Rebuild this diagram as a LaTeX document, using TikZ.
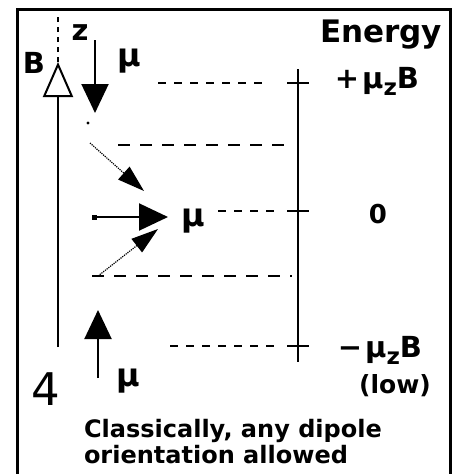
\documentclass[tikz,border=0pt]{standalone}
\usepackage{fontspec}
\setmainfont{DejaVu Sans}
\usetikzlibrary{arrows.meta}

\begin{document}
\begin{tikzpicture}[x=1pt, y=-1pt, line width=2pt,
    >={Triangle[length=29pt,width=27pt]},
    seta/.style={->},
    seta fina/.style={-{Triangle[length=27pt,width=17pt]}, line width=1.2pt, densely dotted},
    nivel/.style={dash pattern=on 8pt off 8pt},
    nivel longo/.style={dash pattern=on 12pt off 10pt},
    rotulo/.style={font=\bfseries\fontsize{32}{35}\selectfont, inner sep=0pt, anchor=base},
    texto/.style={font=\bfseries\fontsize{24}{26}\selectfont, inner sep=0pt, anchor=base west}]
\useasboundingbox (0,0) rectangle (455,474);
% Moldura
\draw[line width=3pt] (17,9) rectangle (450,484);
% Campo B
\coordinate (bBase) at (58,347);
\coordinate (bPonta) at (58,62);
\coordinate (zTopo) at (58,15);
\draw[-{Triangle[open,length=35pt,width=30pt]}] (bBase) -- (bPonta);
\draw[dash pattern=on 5pt off 5pt] (bPonta) -- (zTopo);
\node[rotulo, font=\bfseries\fontsize{29}{32}\selectfont] (lblB) at (34,73) {B};
\node[rotulo, font=\bfseries\fontsize{29}{32}\selectfont] (lblz) at (80,40) {z};
% Dipolo para baixo
\coordinate (mu1a) at (95,40);
\coordinate (mu1b) at (95,113);
\draw[seta] (mu1a) -- (mu1b);
\node[rotulo] (mu1) at (129,66) {μ};
\node[circle, fill, inner sep=1.1pt] (ponto) at (88,123) {};
% Dipolos inclinados
\coordinate (mu2a) at (90,143);
\coordinate (mu2b) at (144,191);
\draw[seta fina] (mu2a) -- (mu2b);
\coordinate (mu3a) at (92,217);
\coordinate (mu3b) at (168,217);
\draw[{Square[length=5pt,width=5pt]}->] (mu3a) -- (mu3b);
\node[rotulo] (mu3) at (193,226) {μ};
\coordinate (mu4a) at (98,276);
\coordinate (mu4b) at (158,229);
\draw[seta fina] (mu4a) -- (mu4b);
% Dipolo para cima
\coordinate (mu5a) at (98,378);
\coordinate (mu5b) at (98,310);
\draw[seta] (mu5a) -- (mu5b);
\node[rotulo] (mu5) at (128,386) {μ};
\node[font=\fontsize{45}{48}\selectfont, inner sep=0pt, anchor=base] (num) at (45.5,405) {4};
% Eixo de energia
\coordinate (eTopo) at (298,69);
\coordinate (eBase) at (298,362);
\draw (eTopo) -- (eBase);
\foreach \y/\nome in {83/alto, 211/meio, 346/baixo}{
  \coordinate (t\nome) at (298,\y);
  \draw ([xshift=-11pt]t\nome) -- ([xshift=11pt]t\nome);
}
% Niveis
\coordinate (n1a) at (158,83);
\coordinate (n1b) at (266,83);
\draw[nivel] (n1a) -- (n1b);
\coordinate (n2a) at (218,211);
\coordinate (n2b) at (274,211);
\draw[nivel] (n2a) -- (n2b);
\coordinate (n3a) at (170,346);
\coordinate (n3b) at (274,346);
\draw[nivel] (n3a) -- (n3b);
\coordinate (l1a) at (118,145);
\coordinate (l1b) at (292,145);
\draw[nivel longo] (l1a) -- (l1b);
\coordinate (l2a) at (92,276);
\coordinate (l2b) at (292,276);
\draw[nivel longo] (l2a) -- (l2b);
% Rotulos de energia
\node[rotulo, font=\bfseries\fontsize{31}{34}\selectfont] (energia) at (381,42) {Energy};
\node[rotulo, font=\bfseries\fontsize{29}{32}\selectfont] (emax) at (377,88) {+\kern3pt μ\raisebox{-7pt}{\fontsize{23}{23}\selectfont z}B};
\node[rotulo, font=\bfseries\fontsize{26}{28}\selectfont] (ezero) at (378,223) {0};
\node[rotulo, font=\bfseries\fontsize{29}{32}\selectfont] (emin) at (380,357) {−\kern3pt μ\raisebox{-7pt}{\fontsize{23}{23}\selectfont z}B};
\node[rotulo, font=\bfseries\fontsize{25}{28}\selectfont] (baixo) at (395,393) {(low)};
% Legenda
\node[texto] (txt1) at (83,437) {Classically, any dipole};
\node[texto] (txt2) at (83,463) {orientation allowed};
\end{tikzpicture}
\end{document}
